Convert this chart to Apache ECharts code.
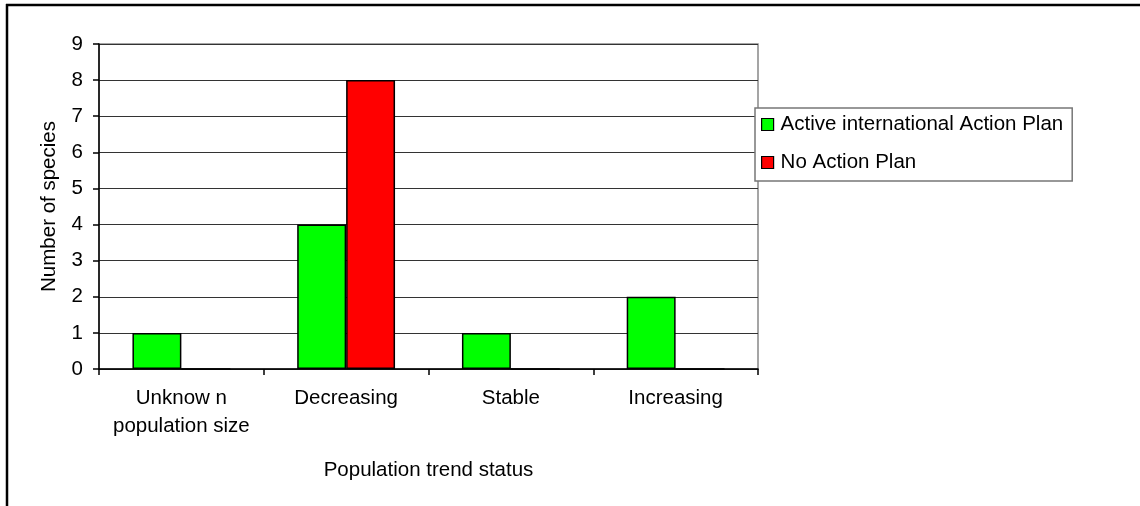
<!DOCTYPE html>
<html>
<head>
<meta charset="utf-8">
<script src="https://cdn.jsdelivr.net/npm/echarts@6/dist/echarts.min.js"></script>
<style>html,body{margin:0;padding:0;background:#fff}#c{width:1140px;height:506px}</style>
</head>
<body>
<div id="c"></div>
<script>
var categories = ['Unknow n\npopulation size', 'Decreasing', 'Stable', 'Increasing'];
var activePlan = [1, 4, 1, 2];
var noPlan = [0, 8, 0, 0];
var seriesNames = ['Active international Action Plan', 'No Action Plan'];
var yTicks = [0, 9, 1];

var chart = echarts.init(document.getElementById('c'), null, {renderer: 'canvas'});
var font = 'Liberation Sans, Arial, sans-serif';
var fs = 20.5;
chart.setOption({
  backgroundColor: '#fff',
  animation: false,
  textStyle: {fontFamily: font},
  grid: {left: 99, right: 382, top: 44, bottom: 137, show: true, borderColor: '#888', borderWidth: 1.5},
  legend: {
    orient: 'vertical', left: 755, top: 108,
    padding: [5, 9, 7, 6], itemGap: 15, itemWidth: 12, itemHeight: 12,
    borderColor: '#777', borderWidth: 1.5, backgroundColor: '#fff',
    textStyle: {fontSize: fs, color: '#000', fontFamily: font, padding: [0, 0, 0, 2], lineHeight: 23},
    itemStyle: {borderColor: '#000', borderWidth: 1.2},
    data: seriesNames.map(function(n){return {name: n, icon: 'rect'};})
  },
  xAxis: {
    type: 'category', data: categories,
    name: 'Population trend status', nameLocation: 'middle', nameGap: 91,
    nameTextStyle: {fontSize: fs, color: '#000', fontFamily: font},
    axisLine: {lineStyle: {color: '#000', width: 1.5}},
    axisTick: {show: true, length: 6, lineStyle: {color: '#000', width: 1.5}},
    axisLabel: {fontSize: fs, color: '#000', margin: 15, lineHeight: 28, fontFamily: font, interval: 0}
  },
  yAxis: {
    type: 'value', min: yTicks[0], max: yTicks[1], interval: yTicks[2],
    name: 'Number of species', nameLocation: 'middle', nameGap: 39,
    nameTextStyle: {fontSize: fs, color: '#000', fontFamily: font},
    axisLine: {show: true, lineStyle: {color: '#000', width: 1.5}},
    axisTick: {show: true, length: 6, lineStyle: {color: '#000', width: 1.5}},
    axisLabel: {fontSize: fs, color: '#000', margin: 16, fontFamily: font},
    splitLine: {lineStyle: {color: '#333', width: 1.2}}
  },
  series: [
    {name: seriesNames[0], type: 'bar', data: activePlan, barWidth: '29.7%', barGap: '0%',
     itemStyle: {color: '#00ff00', borderColor: '#000', borderWidth: 1.5}},
    {name: seriesNames[1], type: 'bar', data: noPlan, barWidth: '29.7%', barGap: '0%',
     itemStyle: {color: '#ff0000', borderColor: '#000', borderWidth: 1.5}}
  ],
  graphic: [
    {type: 'line', shape: {x1: 6, y1: 5, x2: 1140, y2: 5}, style: {stroke: '#000', lineWidth: 2.5}},
    {type: 'line', shape: {x1: 7, y1: 4, x2: 7, y2: 506}, style: {stroke: '#000', lineWidth: 2.5}}
  ]
});
</script>
</body>
</html>
